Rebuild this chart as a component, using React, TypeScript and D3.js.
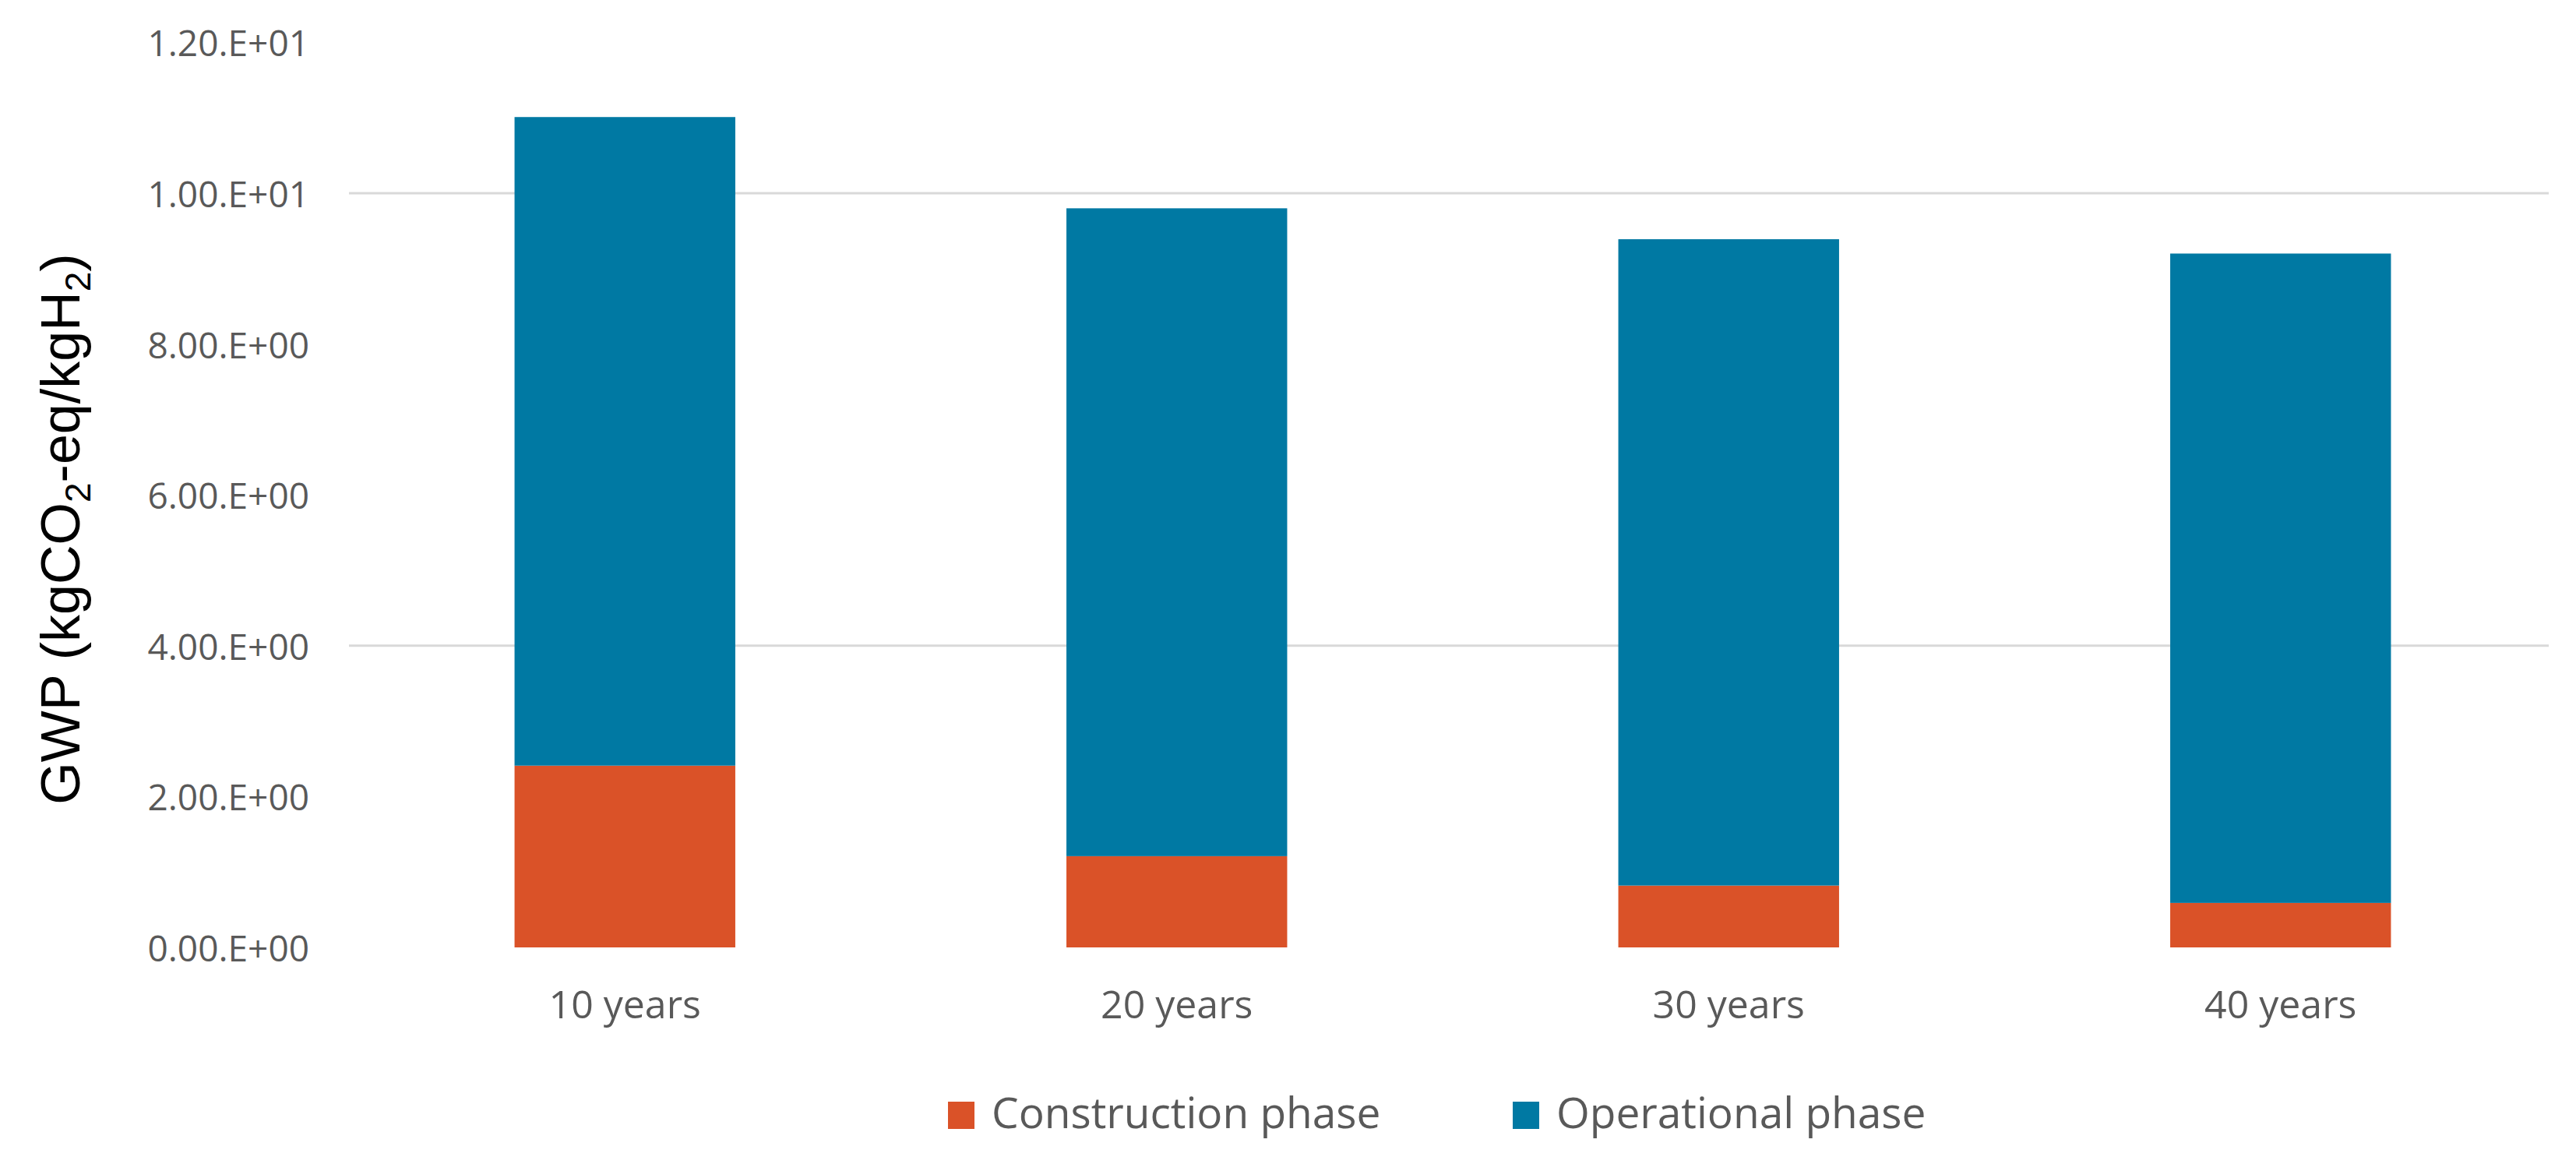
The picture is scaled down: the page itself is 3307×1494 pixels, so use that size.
import React from "react";
import * as d3 from "d3";

const categories = ["10 years", "20 years", "30 years", "40 years"];
const construction = [2.41, 1.21, 0.82, 0.59];
const operational = [8.6, 8.59, 8.57, 8.61];
const seriesNames = ["Construction phase", "Operational phase"];
const seriesColors = ["#DA5228", "#0079A3"];
const yTicks = [0, 2, 4, 6, 8, 10, 12];
const gridValues = [4, 10];

const W = 3307;
const H = 1494;

export default function App() {
  const x = d3
    .scaleBand<string>()
    .domain(categories)
    .range([448, 3282])
    .paddingInner(0.6)
    .paddingOuter(0.3);
  const y = d3.scaleLinear().domain([0, 12]).range([1216, 54.4]);

  const rows = categories.map((c, i) => ({
    cat: c,
    construction: construction[i],
    operational: operational[i],
  }));
  const stack = d3.stack<any>().keys(["construction", "operational"]);
  const layers = stack(rows);

  const fmt = (v: number) => {
    const s = v.toExponential(2); // e.g. "1.20e+1"
    const [m, e] = s.split("e");
    const sign = e[0] === "-" ? "-" : "+";
    const ex = Math.abs(parseInt(e, 10)).toString().padStart(2, "0");
    return `${m}.E${sign}${ex}`;
  };

  const tickFont = "'Open Sans', sans-serif";

  return (
    <svg
      width={W}
      height={H}
      style={{ position: "absolute", left: 0, top: 0, background: "#fff" }}
    >
      <rect x={0} y={0} width={W} height={H} fill="#fff" />
      {gridValues.map((g) => (
        <line
          key={g}
          x1={448}
          x2={3272}
          y1={y(g)}
          y2={y(g)}
          stroke="#D9D9D9"
          strokeWidth={3}
        />
      ))}
      {layers.map((layer, li) => (
        <g key={li} fill={seriesColors[li]}>
          {layer.map((d: any, i: number) => (
            <rect
              key={i}
              x={x(categories[i])}
              width={x.bandwidth()}
              y={y(d[1])}
              height={y(d[0]) - y(d[1])}
            />
          ))}
        </g>
      ))}
      {yTicks.map((t) => (
        <text
          key={t}
          x={397}
          y={y(t)}
          textAnchor="end"
          dominantBaseline="central"
          fontFamily={tickFont}
          fontSize={46}
          fill="#595959"
        >
          {fmt(t)}
        </text>
      ))}
      {categories.map((c) => (
        <text
          key={c}
          x={(x(c) as number) + x.bandwidth() / 2}
          y={1307}
          textAnchor="middle"
          fontFamily={tickFont}
          fontSize={50}
          fill="#595959"
        >
          {c}
        </text>
      ))}
      <text
        transform="translate(102,679) rotate(-90)"
        textAnchor="middle"
        fontFamily="'Liberation Sans', Arial, sans-serif"
        fontSize={70}
        fill="#000"
      >
        GWP (kgCO
        <tspan fontSize={46} dy={14}>2</tspan>
        <tspan dy={-14}>-eq/kgH</tspan>
        <tspan fontSize={46} dy={14}>2</tspan>
        <tspan dy={-14}>)</tspan>
      </text>
      {seriesNames.map((n, i) => {
        const sx = [1217, 1942][i];
        return (
          <g key={n}>
            <rect x={sx} y={1414} width={34} height={35} fill={seriesColors[i]} />
            <text
              x={sx + 56}
              y={1448}
              fontFamily={tickFont}
              fontSize={55}
              fill="#595959"
            >
              {n}
            </text>
          </g>
        );
      })}
    </svg>
  );
}
